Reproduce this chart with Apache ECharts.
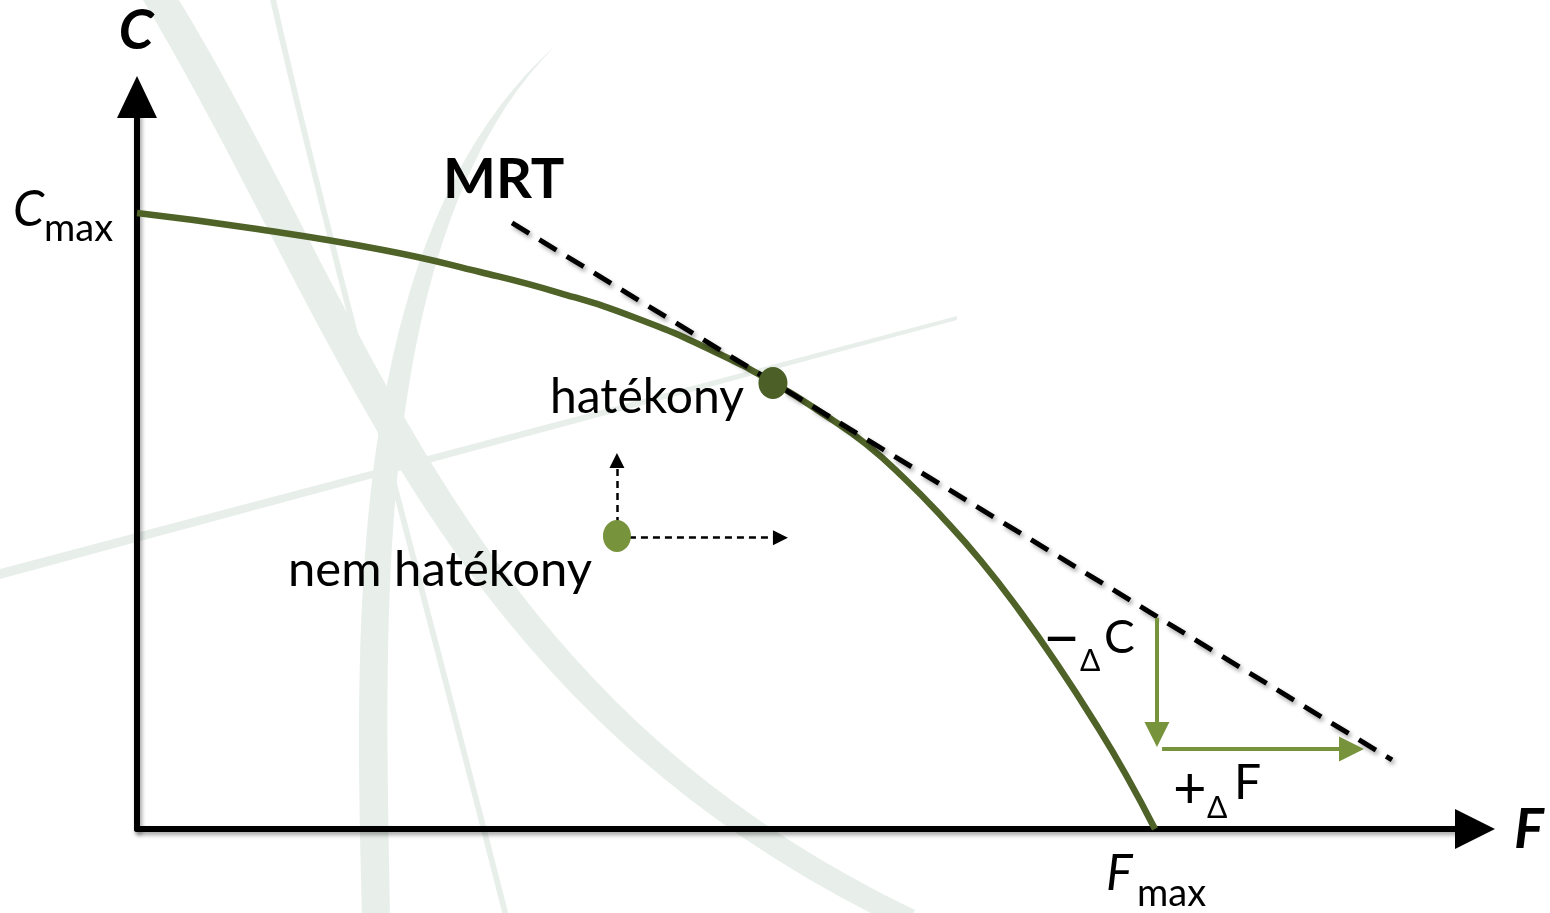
<!DOCTYPE html>
<html>
<head>
<meta charset="UTF-8">
<title>Transzformációs görbe</title>
<script src="https://cdn.jsdelivr.net/npm/echarts@6/dist/echarts.min.js"></script>
<style>
    html, body { margin: 0; padding: 0; background: #fff; }
    #main { width: 1550px; height: 913px; }
</style>
</head>
<body>
<div id="main"></div>
<script>
// transzformációs görbe: F (vízszintes) és C (függőleges), 0-100 skálán
var curveF = [0, 8.45, 18.39, 25.64, 31.61, 37.29, 43.05, 47.61, 51.64, 54.48, 57.32, 60.24, 63.08, 65.92, 68.76, 71.75, 73.92, 76.08];
var curveC = [84.15, 82.10, 79.10, 76.09, 73.22, 69.81, 65.30, 60.93, 56.28, 52.60, 47.95, 42.49, 36.61, 29.92, 22.54, 14.07, 7.38, 0];

// MRT érintő
var mrtF = [28.03, 93.80];
var mrtC = [82.79, 9.43];

// pontok
var efficientPt = [47.53, 60.93];
var inefficientPt = [35.87, 40.03];

// nyilak (kezdő- és végpont)
var moveUp = [[35.87, 40.03], [35.87, 50.34]];
var moveRight = [[35.87, 39.8], [48.09, 39.8]];
var deltaC = [[76.23, 28.83], [76.23, 12.91]];
var deltaF = [[76.61, 10.93], [90.77, 10.93]];

function zip(a, b) { return a.map(function (v, i) { return [v, b[i]]; }); }

var chart = echarts.init(document.getElementById('main'));

var FONT = 'Lato';
var BG = '#e8efeb';
var shadow = { shadowColor: 'rgba(0,0,0,0.35)', shadowBlur: 4, shadowOffsetX: 2, shadowOffsetY: 3 };

function txt(x, y, s, size, weight, style) {
    return {
        type: 'text', x: x, y: y, z: 100, silent: true,
        style: {
            text: s, fill: '#000', font: (style || 'normal') + ' ' + (weight || 'normal') + ' ' + size + 'px ' + FONT,
            align: 'left', verticalAlign: 'middle'
        }
    };
}
// háttér díszítés: két bézier-él közötti kitöltött sáv
function bez(p0, p1, p2, p3) {
    var out = [];
    for (var i = 0; i <= 40; i++) {
        var t = i / 40, u = 1 - t;
        out.push([
            u * u * u * p0[0] + 3 * u * u * t * p1[0] + 3 * u * t * t * p2[0] + t * t * t * p3[0],
            u * u * u * p0[1] + 3 * u * u * t * p1[1] + 3 * u * t * t * p2[1] + t * t * t * p3[1]
        ]);
    }
    return out;
}
function band(edgeA, edgeB) {
    return {
        type: 'polygon', z: -10, silent: true,
        shape: { points: edgeA.concat(edgeB.reverse()) },
        style: { fill: BG }
    };
}

var option = {
    backgroundColor: '#fff',
    animation: false,
    grid: { left: 137, right: 75, top: 97, bottom: 84, containLabel: false },
    xAxis: {
        type: 'value', min: 0, max: 100,
        axisLine: { show: true, symbol: ['none', 'triangle'], symbolSize: [40, 40],
            lineStyle: Object.assign({ color: '#000', width: 6 }, shadow) },
        axisTick: { show: false }, axisLabel: { show: false }, splitLine: { show: false }
    },
    yAxis: {
        type: 'value', min: 0, max: 100,
        axisLine: { show: true, symbol: ['none', 'triangle'], symbolSize: [40, 42],
            lineStyle: Object.assign({ color: '#000', width: 6 }, shadow) },
        axisTick: { show: false }, axisLabel: { show: false }, splitLine: { show: false }
    },
    graphic: [
        band(bez([140, -5], [345, 335], [437, 707], [905, 930]), bez([176, -5], [377, 325], [463, 693], [915, 910])),
        band(bez([556, 45], [342, 235], [355, 640], [362, 920]), bez([556, 45], [366, 235], [386, 640], [390, 920])),
        band(bez([269, -5], [327, 250], [397, 500], [504, 920]), bez([275, -5], [333, 250], [403, 500], [510, 920])),
        { type: 'polygon', z: -10, silent: true, shape: { points: [[0, 569], [957, 316], [957, 320], [0, 579]] }, style: { fill: BG } },
        // feliratok
        { type: 'text', x: 136, y: 31, z: 100, silent: true,
          style: { text: 'C', fill: '#000', font: 'italic bold 56px ' + FONT, align: 'center', verticalAlign: 'middle' } },
        txt(1514, 830, 'F', 56, 'bold', 'italic'),
        txt(443, 180, 'MRT', 56, 'bold'),
        txt(13, 210, 'C', 50, 'normal', 'italic'),
        txt(44, 229, 'max', 38),
        txt(1106, 874, 'F', 50, 'normal', 'italic'),
        txt(1137, 894, 'max', 38),
        txt(550, 398, 'hatékony', 48),
        txt(288, 570, 'nem hatékony', 49),
        txt(1043, 639, '\u2212', 64),
        txt(1080, 661, '\u0394', 30),
        txt(1104, 638, 'C', 46),
        txt(1173, 789, '+', 58),
        txt(1207, 808, '\u0394', 30),
        txt(1234, 784, 'F', 48)
    ],
    series: [
        {
            name: 'görbe', type: 'line', data: zip(curveF, curveC), smooth: 0.5, showSymbol: false, z: 3,
            lineStyle: { color: '#4f6228', width: 6.5 }
        },
        {
            name: 'MRT', type: 'line', data: zip(mrtF, mrtC), showSymbol: false, z: 4,
            lineStyle: Object.assign({ color: '#000', width: 5, type: [20, 12] }, shadow)
        },
        {
            name: 'mozgás', type: 'lines', coordinateSystem: 'cartesian2d', z: 5,
            symbol: ['none', 'triangle'], symbolSize: [16, 15],
            lineStyle: { color: '#000', width: 2.5, type: [7, 5], opacity: 1 },
            data: [{ coords: moveUp }, { coords: moveRight }]
        },
        {
            name: 'delta', type: 'lines', coordinateSystem: 'cartesian2d', z: 5,
            symbol: ['none', 'triangle'], symbolSize: [27, 25],
            lineStyle: { color: '#77933c', width: 4, opacity: 1 },
            data: [{ coords: deltaC }, { coords: deltaF }]
        },
        {
            name: 'hatékony', type: 'scatter', data: [efficientPt], symbolSize: [29, 32], z: 6,
            itemStyle: { color: '#4b5f26', opacity: 1 }
        },
        {
            name: 'nem hatékony', type: 'scatter', data: [inefficientPt], symbolSize: [28, 32], z: 6,
            itemStyle: { color: '#77933c', opacity: 1 }
        }
    ]
};

chart.setOption(option);
</script>
</body>
</html>
